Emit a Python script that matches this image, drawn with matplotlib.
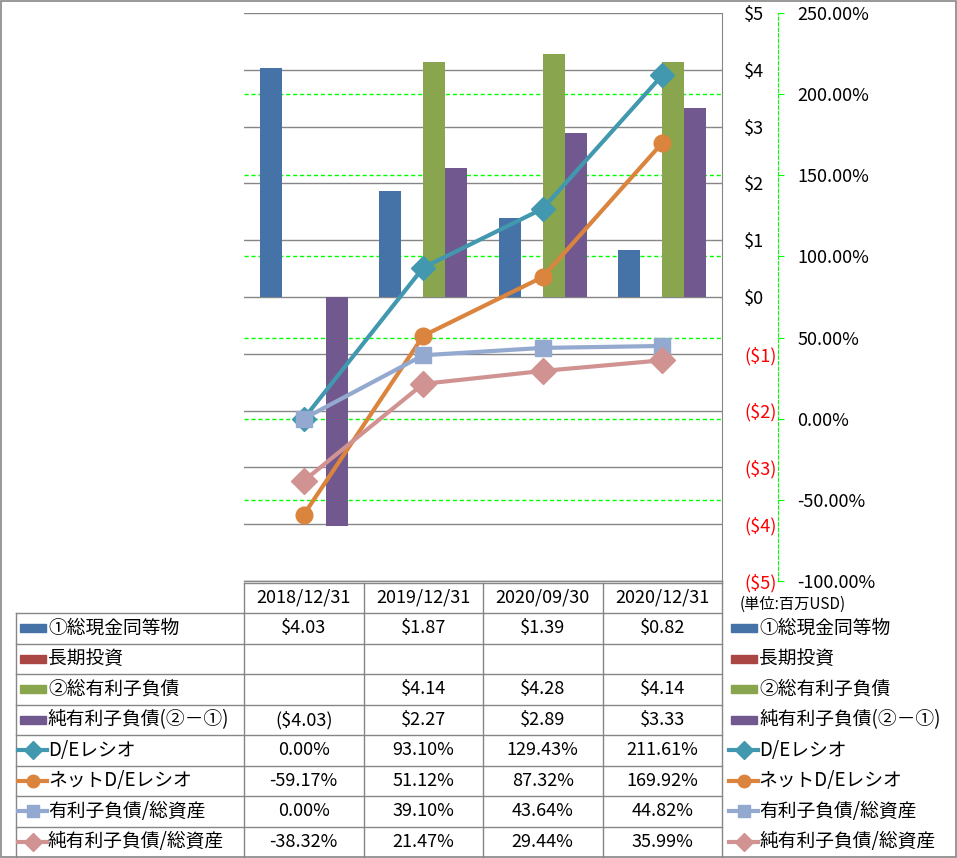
import numpy as np
import matplotlib
matplotlib.use("Agg")
import matplotlib.pyplot as plt
import matplotlib.transforms as mtransforms
from matplotlib.patches import Rectangle
from matplotlib.lines import Line2D

plt.rcParams['font.family'] = ['Noto Sans CJK JP', 'DejaVu Sans']

# data
dates = ["2018/12/31", "2019/12/31", "2020/09/30", "2020/12/31"]
bar_names = ["①総現金同等物", "長期投資", "②総有利子負債", "純有利子負債(②－①)"]
cash = [4.03, 1.87, 1.39, 0.82]
lt_invest = [np.nan, np.nan, np.nan, np.nan]
debt = [np.nan, 4.14, 4.28, 4.14]
net_debt = [-4.03, 2.27, 2.89, 3.33]

line_names = ["D/Eレシオ", "ネットD/Eレシオ", "有利子負債/総資産", "純有利子負債/総資産"]
de_ratio = [0.00, 93.10, 129.43, 211.61]
net_de_ratio = [-59.17, 51.12, 87.32, 169.92]
debt_assets = [0.00, 39.10, 43.64, 44.82]
net_debt_assets = [-38.32, 21.47, 29.44, 35.99]

bar_colors = ["#4572A7", "#AA4643", "#89A54E", "#71588F"]
line_colors = ["#4198AF", "#DB843D", "#93A9CF", "#D19392"]
line_markers = ["D", "o", "s", "D"]
line_msize = [12, 12, 11, 13]
key_msize = [9, 9, 9, 9]

W, H = 957, 858
fig = plt.figure(figsize=(W / 100, H / 100), dpi=100)

def fx(px):
    return px / W

def fy(py):
    return 1 - py / H

# plot area
x0, x1, y0, y1 = 244, 722, 13, 581
ax = fig.add_axes([fx(x0), fy(y1), fx(x1) - fx(x0), fy(y0) - fy(y1)])
ax2 = ax.twinx()

n = len(dates)
x = np.arange(n)
bw = 0.184
bar_series = [cash, lt_invest, debt, net_debt]
for i, (vals, c) in enumerate(zip(bar_series, bar_colors)):
    ax.bar(x + (i - 1.5) * bw, vals, width=bw, color=c, zorder=3)

ax.set_xlim(-0.5, n - 0.5)
ax.set_ylim(-5, 5)
ax.set_xticks([])
yt = np.arange(-5, 6)
ax.yaxis.tick_right()
ax.set_yticks(yt)
ax.set_yticklabels([f"${v}" if v >= 0 else f"(${-v})" for v in yt])
for lbl, v in zip(ax.get_yticklabels(), yt):
    lbl.set_color("red" if v < 0 else "black")
    lbl.set_horizontalalignment("left")
ax.tick_params(axis='y', length=0, pad=16, labelsize=13)
ax.yaxis.grid(True, color="#868686", lw=1)
ax.set_axisbelow(True)
for s in ["left", "top", "bottom"]:
    ax.spines[s].set_visible(False)
ax.spines["right"].set_color("#868686")

# secondary axis
ax2.set_ylim(-100, 250)
pt = np.arange(-100, 251, 50)
ax2.set_yticks(pt)
ax2.set_yticklabels([f"{v:.2f}%" for v in pt])
for lbl, v in zip(ax2.get_yticklabels(), pt):
    lbl.set_color("red" if v < 0 else "black")
ax2.tick_params(axis='y', direction='out', length=4, color="#00FF00", pad=10, labelsize=13)
for s in ["left", "top", "bottom"]:
    ax2.spines[s].set_visible(False)
ax2.spines["right"].set_position(("axes", (778 - x0) / (x1 - x0)))
ax2.spines["right"].set_color("#00FF00")
ax2.spines["right"].set_linestyle((0, (3, 2)))

# secondary gridlines drawn behind the bars
trans = mtransforms.blended_transform_factory(ax.transAxes, ax2.transData)
for v in pt[1:-1]:
    ax.plot([0, 1], [v, v], transform=trans, color="#00FF00", lw=1,
            ls=(0, (3, 2)), zorder=2)

line_series = [de_ratio, net_de_ratio, debt_assets, net_debt_assets]
for vals, c, m, ms in zip(line_series, line_colors, line_markers, line_msize):
    ax2.plot(x, vals, color=c, lw=3, marker=m, ms=ms, mec=c, mfc=c, zorder=3)

# figure border
fig.patches.append(Rectangle((fx(1), fy(857)), fx(955), fy(1) - fy(857),
                             transform=fig.transFigure, fill=False,
                             ec="#868686", lw=1.2))

# data table
grid_c = "#868686"
row_y = [583, 613, 643.5, 674, 704.5, 735, 765.5, 796, 826.5, 857]
col_x = [x0 + (x1 - x0) * k / n for k in range(n + 1)]

def hline(xa, xb, y):
    fig.add_artist(Line2D([fx(xa), fx(xb)], [fy(y), fy(y)], color=grid_c, lw=1))

def vline(xx, ya, yb):
    fig.add_artist(Line2D([fx(xx), fx(xx)], [fy(ya), fy(yb)], color=grid_c, lw=1))

hline(x0, x1, y1)
hline(x0, x1, row_y[0])
for y in row_y[1:-1]:
    hline(16, x1, y)
for xx in col_x[:-1]:
    vline(xx, row_y[0], row_y[-1])
vline(x1, y1, row_y[-1])
vline(16, row_y[1], row_y[-1])

for k, d in enumerate(dates):
    fig.text(fx((col_x[k] + col_x[k + 1]) / 2), fy((row_y[0] + row_y[1]) / 2), d,
             ha="center", va="center", fontsize=13)

fig.text(fx(740), fy(604), "(単位:百万USD)", ha="left", va="center", fontsize=11)

def fmt_usd(v):
    if np.isnan(v):
        return ""
    return f"${v:.2f}" if v >= 0 else f"(${-v:.2f})"

names = bar_names + line_names
values = bar_series + line_series
for r, (name, vals) in enumerate(zip(names, values)):
    yc = (row_y[r + 1] + row_y[r + 2]) / 2
    for k, v in enumerate(vals):
        s = fmt_usd(v) if r < 4 else f"{v:.2f}%"
        fig.text(fx((col_x[k] + col_x[k + 1]) / 2), fy(yc), s,
                 ha="center", va="center", fontsize=13)
    for kx, tx in [(20, 48), (731, 759)]:
        if r < 4:
            fig.patches.append(Rectangle((fx(kx), fy(yc + 4)), fx(26), fy(0) - fy(8),
                                         transform=fig.transFigure, color=bar_colors[r]))
        else:
            c = line_colors[r - 4]
            fig.add_artist(Line2D([fx(kx - 2), fx(kx + 27)], [fy(yc), fy(yc)], color=c, lw=3))
            fig.add_artist(Line2D([fx(kx + 12.5)], [fy(yc)], color=c,
                                  marker=line_markers[r - 4], ms=key_msize[r - 4],
                                  mfc=c, mec=c, ls="none"))
        fig.text(fx(tx), fy(yc), name, ha="left", va="center", fontsize=13.5)

fig.savefig("out.png", dpi=100)
